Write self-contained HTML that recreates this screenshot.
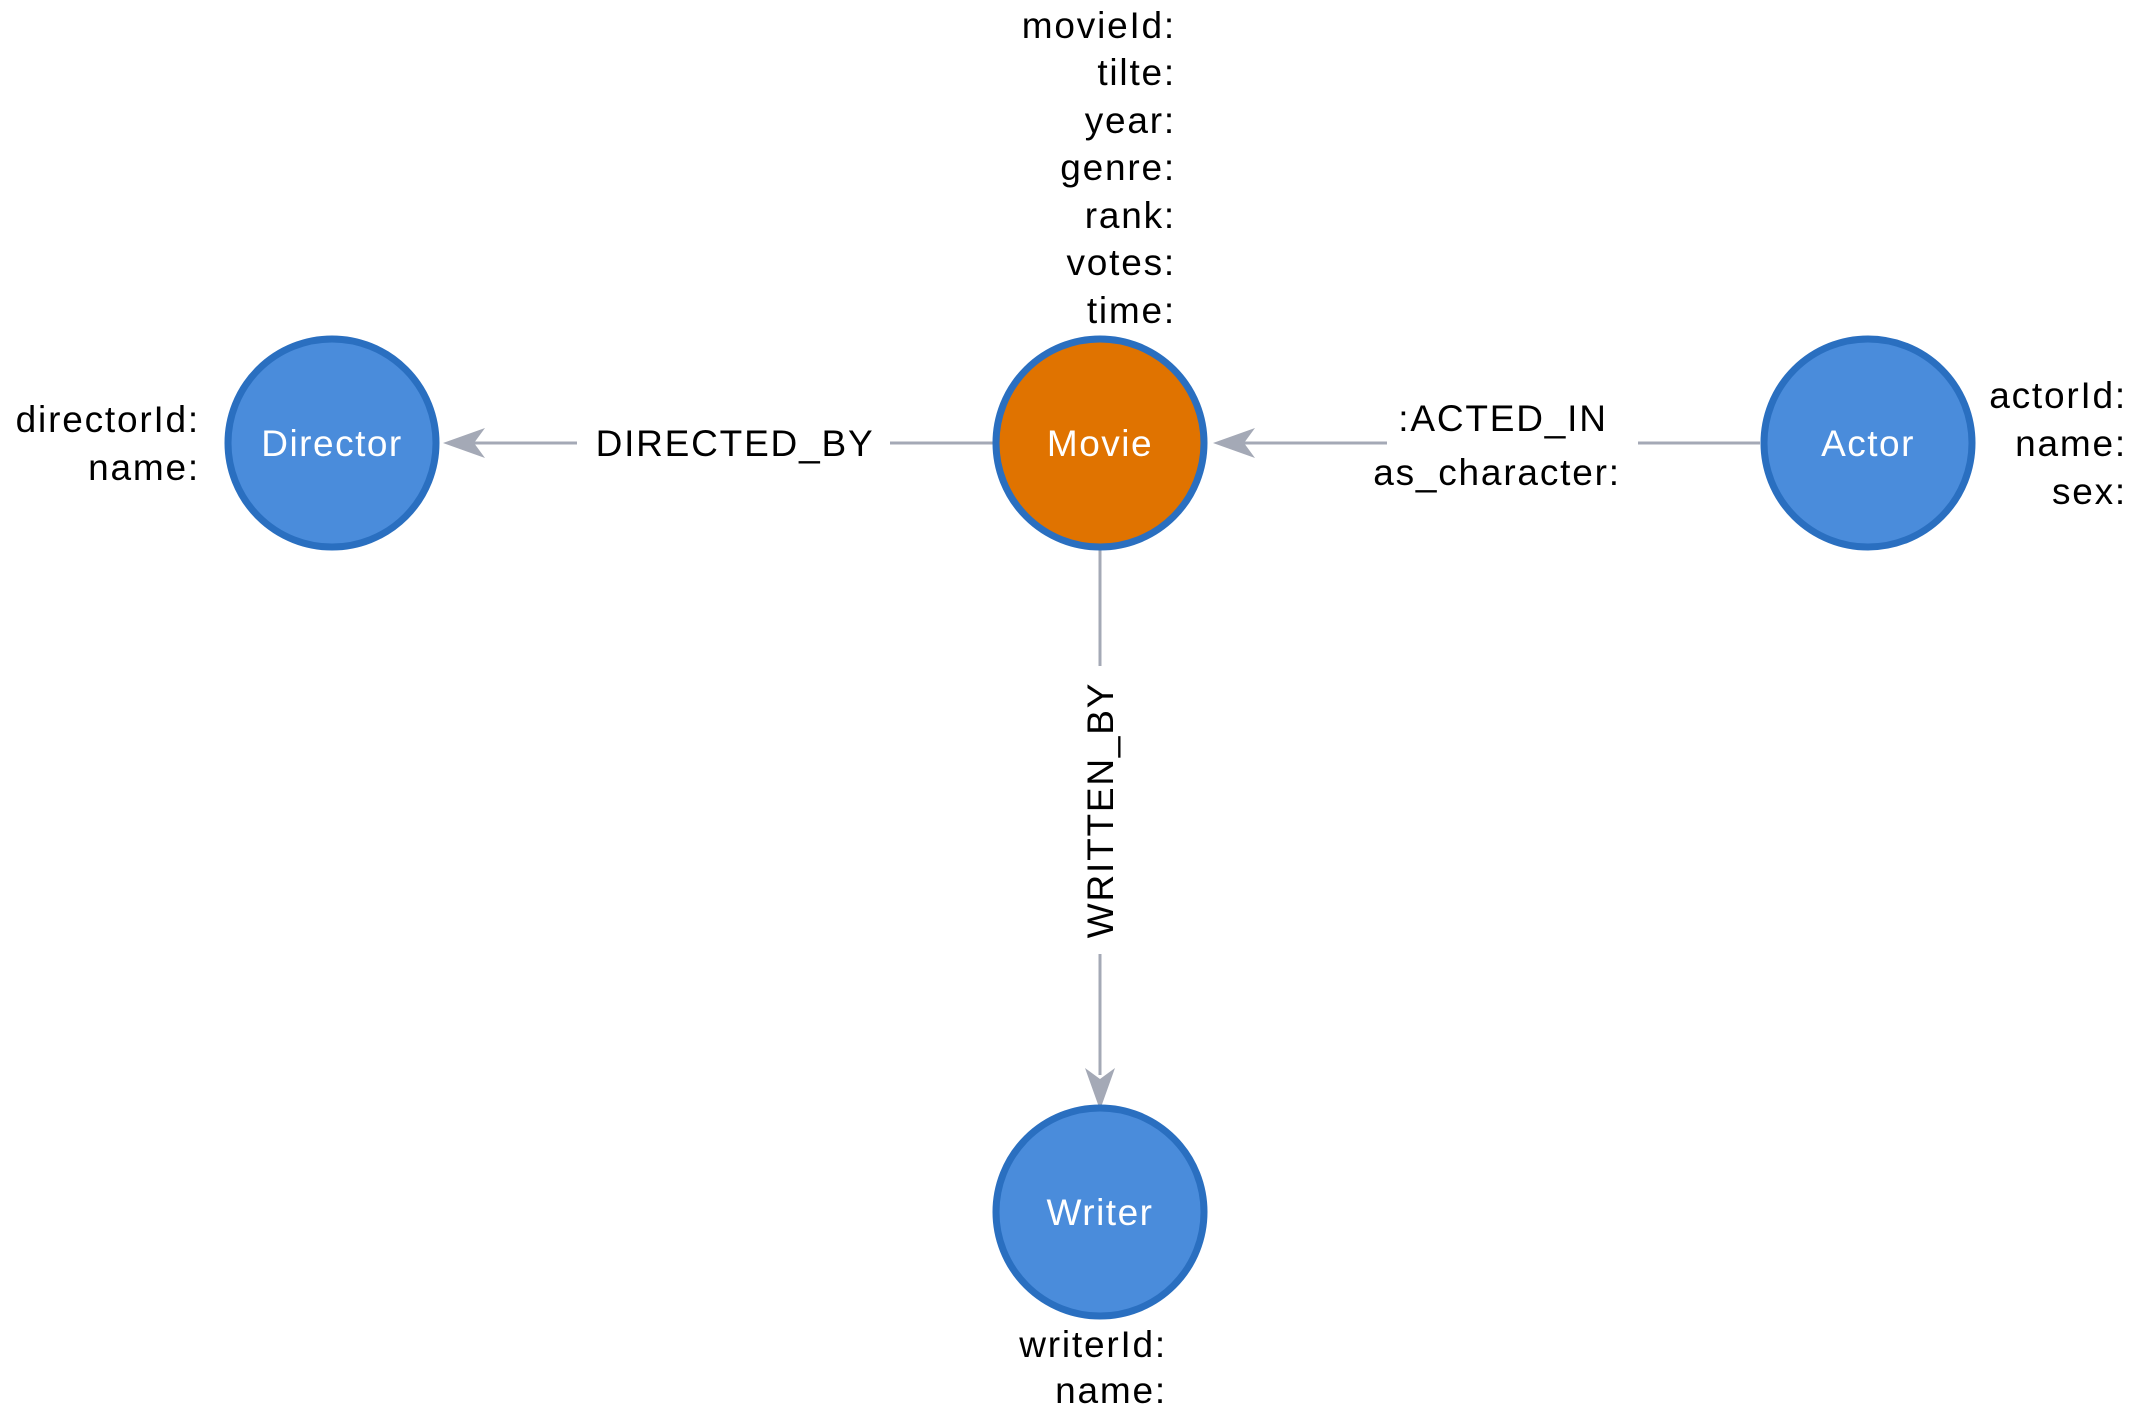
<!DOCTYPE html>
<html><head><meta charset="utf-8"><style>html,body{margin:0;padding:0;background:#fff}svg{display:block}</style></head><body>
<svg width="2152" height="1416" viewBox="0 0 2152 1416" xmlns="http://www.w3.org/2000/svg" font-family="Liberation Sans, Arial, sans-serif">
<g stroke="#a4a9b6" stroke-width="3" fill="none">
<line x1="993" y1="443" x2="890" y2="443"/><line x1="577" y1="443" x2="470" y2="443"/>
<line x1="1760" y1="443" x2="1638" y2="443"/><line x1="1387" y1="443" x2="1240" y2="443"/>
<line x1="1100" y1="550" x2="1100" y2="666"/><line x1="1100" y1="954" x2="1100" y2="1075"/>
</g>
<g fill="#a4a9b6">
<polygon points="443,443 485,428 474,443 485,458"/>
<polygon points="1213,443 1255,428 1244,443 1255,458"/>
<polygon points="1100,1110 1085,1068 1100,1079 1115,1068"/>
</g>
<g stroke="#2a6fc0" stroke-width="7">
<circle cx="332" cy="443" r="104" fill="#4a8cdb"/>
<circle cx="1100" cy="443" r="104" fill="#e07300"/>
<circle cx="1868" cy="443" r="104" fill="#4a8cdb"/>
<circle cx="1100" cy="1212" r="104" fill="#4a8cdb"/>
</g>
<g fill="#fff" font-size="37" letter-spacing="1.5" text-anchor="middle">
<text x="332" y="456">Director</text><text x="1100" y="456">Movie</text>
<text x="1868" y="456">Actor</text><text x="1100" y="1225">Writer</text>
</g>
<g fill="#000" font-size="37" letter-spacing="1.8" text-anchor="end">
<text x="1176" y="38">movieId:</text><text x="1176" y="85">tilte:</text><text x="1176" y="133">year:</text>
<text x="1176" y="180">genre:</text><text x="1176" y="228">rank:</text><text x="1176" y="275">votes:</text>
<text x="1176" y="323">time:</text>
<text x="200" y="432">directorId:</text><text x="200" y="480">name:</text>
<text x="2127" y="408">actorId:</text><text x="2127" y="456">name:</text><text x="2127" y="504">sex:</text>
<text x="1167" y="1357">writerId:</text><text x="1167" y="1403">name:</text>
</g>
<g fill="#000" font-size="37" letter-spacing="1.8" text-anchor="middle">
<text x="735" y="456">DIRECTED_BY</text>
<text x="1503" y="431">:ACTED_IN</text>
<text x="1497" y="485">as_character:</text>
<text transform="translate(1113,810) rotate(-90)" x="0" y="0">WRITTEN_BY</text>
</g>
</svg>
</body></html>
